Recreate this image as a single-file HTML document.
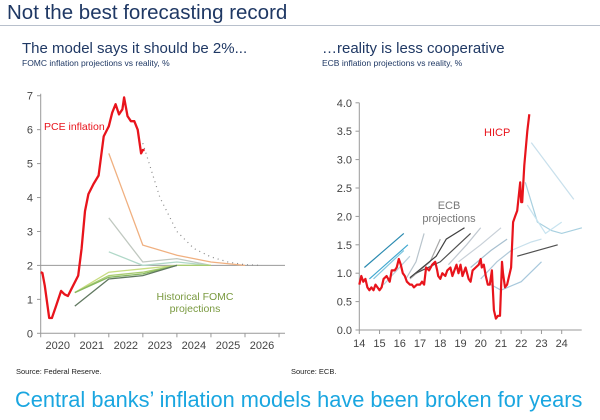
<!DOCTYPE html>
<html><head><meta charset="utf-8"><style>
body{margin:0;width:600px;height:420px;background:#fff;overflow:hidden;font-family:"Liberation Sans",sans-serif;position:relative}
.t{position:absolute;white-space:nowrap}
</style></head><body>
<div class="t" style="left:7px;top:1px;font-size:20.5px;color:#1f3864">Not the best forecasting record</div>
<div style="position:absolute;left:0;top:25px;width:600px;height:1px;background:#b8c0cc"></div>
<div class="t" style="left:22px;top:40px;font-size:15px;color:#1f3864">The model says it should be 2%...</div>
<div class="t" style="left:22px;top:58px;font-size:8.5px;color:#1f3864">FOMC inflation projections vs reality, %</div>
<div class="t" style="left:322px;top:40px;font-size:15px;color:#1f3864">…reality is less cooperative</div>
<div class="t" style="left:322px;top:58px;font-size:8.5px;color:#1f3864">ECB inflation projections vs reality, %</div>
<div class="t" style="left:16px;top:367px;font-size:7.5px;color:#222">Source: Federal Reserve.</div>
<div class="t" style="left:291px;top:367px;font-size:7.5px;color:#222">Source: ECB.</div>
<div class="t" style="left:15px;top:387px;font-size:21.8px;color:#1aa6e0">Central banks’ inflation models have been broken for years</div>
<svg id="c" width="600" height="420" style="position:absolute;left:0;top:0"></svg>
<script>
// ---- FOMC chart data ----
const pceYears=[2020.0,2020.05,2020.12,2020.25,2020.33,2020.45,2020.6,2020.7,2020.8,2020.9,2021.1,2021.2,2021.3,2021.4,2021.55,2021.7,2021.85,2022.0,2022.1,2022.2,2022.3,2022.4,2022.45,2022.55,2022.65,2022.75,2022.85,2022.95,2023.0,2023.05];
const pceValues=[1.8,1.78,1.4,0.45,0.45,0.8,1.25,1.15,1.1,1.3,1.7,2.5,3.6,4.1,4.4,4.65,5.8,6.1,6.5,6.75,6.45,6.6,6.95,6.4,6.25,6.25,6.0,5.3,5.4,5.4];
const dotYears=[2023.0,2023.5,2024.0,2024.5,2025.0,2025.5,2026.0,2026.5];
const dotValues=[5.6,4.0,3.0,2.5,2.25,2.1,2.02,2.0];
const fomcYears=[2021,2022,2023,2024,2025,2026];
const fomcProj=[
 {c:"#f0b080",v:[null,5.3,2.6,2.3,2.1,2.0]},
 {c:"#c0c8c0",v:[null,3.4,2.1,2.2,2.0,null]},
 {c:"#b0d8c8",v:[null,2.4,2.0,2.1,2.0,null]},
 {c:"#c8dc80",v:[1.2,1.8,1.9,2.0,2.0,null]},
 {c:"#a8cc70",v:[1.2,1.7,1.8,2.0,2.0,null]},
 {c:"#88b860",v:[1.2,1.65,1.75,2.0,null,null]},
 {c:"#607860",v:[0.8,1.6,1.7,2.0,null,null]}];
const leftYTicks=[0,1,2,3,4,5,6,7];
const leftXLabels=["2020","2021","2022","2023","2024","2025","2026"];
// ---- ECB chart data ----
const hicpYears=[14.0,14.1,14.2,14.3,14.4,14.5,14.6,14.7,14.8,14.9,15.0,15.1,15.2,15.35,15.5,15.6,15.75,15.85,15.95,16.05,16.15,16.25,16.35,16.5,16.6,16.7,16.85,17.0,17.1,17.2,17.3,17.45,17.6,17.75,17.85,17.9,18.0,18.1,18.25,18.35,18.5,18.6,18.7,18.8,18.9,19.0,19.1,19.25,19.4,19.5,19.6,19.75,19.9,20.0,20.05,20.15,20.25,20.35,20.45,20.55,20.65,20.75,20.85,20.95,21.05,21.1,21.2,21.3,21.4,21.5,21.6,21.7,21.8,21.95,22.0,22.05,22.15,22.3,22.4];
const hicpValues=[0.8,0.95,0.85,0.9,0.75,0.7,0.75,0.7,0.8,0.75,0.7,0.75,0.9,0.95,0.85,1.05,1.05,1.1,1.25,1.15,1.0,0.95,0.85,0.8,0.8,0.75,0.8,0.8,0.85,0.8,1.1,1.05,1.15,1.2,1.05,0.95,0.9,1.0,0.95,1.05,1.1,0.95,1.05,1.15,1.0,1.15,0.95,1.1,0.9,0.85,1.05,1.1,1.15,1.25,1.1,1.15,0.95,0.8,0.8,1.05,0.35,0.2,0.25,0.25,1.2,1.0,0.75,0.8,0.95,1.1,1.9,2.0,2.1,2.6,2.25,2.25,2.9,3.5,3.8];
const ecbProj=[
 {c:"#2a8ab0",x:[14.25,16.2],v:[1.1,1.7]},
 {c:"#40a8d0",x:[14.5,16.4],v:[0.9,1.5]},
 {c:"#80c8e0",x:[14.7,16.2],v:[0.9,1.4]},
 {c:"#b8d0dc",x:[15.2,16.5],v:[0.8,1.3]},
 {c:"#b8c4cc",x:[16.3,16.8,17.2],v:[0.9,1.2,1.7]},
 {c:"#a8a8a8",x:[16.5,17.5,18.0],v:[0.9,1.2,1.6]},
 {c:"#404040",x:[16.5,17.8,18.3,19.2],v:[0.92,1.3,1.6,1.8]},
 {c:"#505050",x:[16.8,18.0,19.5],v:[1.0,1.2,1.7]},
 {c:"#c0c8d0",x:[18.4,19.3,20.0],v:[1.15,1.5,1.8]},
 {c:"#c8d0d8",x:[18.9,20.0,21.0],v:[1.2,1.5,1.8]},
 {c:"#a8c0d0",x:[19.5,20.5,21.3],v:[1.1,1.4,1.6]},
 {c:"#b0c8d8",x:[20.0,20.8,21.5],v:[0.9,1.2,1.4]},
 {c:"#a8c8dc",x:[20.5,21.0,22.0,23.0],v:[0.8,0.7,0.85,1.2]},
 {c:"#c8e0ec",x:[21.5,22.5,23.0],v:[1.4,1.55,1.6]},
 {c:"#505050",x:[21.8,23.8],v:[1.3,1.5]},
 {c:"#a8d0e0",x:[22.2,22.8,23.5,24.0,25.0],v:[2.6,1.9,1.75,1.7,1.8]},
 {c:"#c8e0ec",x:[22.5,24.6],v:[3.3,2.3]},
 {c:"#c8e4f0",x:[22.3,23.2,24.0],v:[2.2,1.7,1.9]}];
const rightYTicks=[0,0.5,1.0,1.5,2.0,2.5,3.0,3.5,4.0];
const rightXLabels=[14,15,16,17,18,19,20,21,22,23,24];

const svg=document.getElementById('c');const NS="http://www.w3.org/2000/svg";
function mk(t,a,p){const e=document.createElementNS(NS,t);for(const k in a)e.setAttribute(k,a[k]);(p||svg).appendChild(e);return e;}
const lx=y=>40.7+(y-2020)*34.05, ly=v=>333.3-v*33.94;
const rx=y=>359.3+(y-14)*20.24, ry=v=>330-v*56.8;
function path(xs,vs,fx,fy){let d="";let pen=false;for(let i=0;i<xs.length;i++){if(vs[i]==null){pen=false;continue;}d+=(pen?"L":"M")+fx(xs[i]).toFixed(1)+","+fy(vs[i]).toFixed(1);pen=true;}return d;}
let e=mk('line',{x1:40.7,y1:ly(7)-2,x2:40.7,y2:ly(0),stroke:'#999','stroke-width':1});


e=mk('line',{x1:40.7,y1:ly(0),x2:285,y2:ly(0),stroke:'#999','stroke-width':1});


e=mk('line',{x1:40.7,y1:ly(2),x2:285,y2:ly(2),stroke:'#999','stroke-width':1});


leftYTicks.forEach(v=>{mk('line',{x1:37,y1:ly(v),x2:40.7,y2:ly(v),stroke:'#999'});
 const t=mk('text',{x:33,y:ly(v)+4,'font-size':11,fill:'#444','text-anchor':'end'});t.textContent=v;
 
 });
for(let i=0;i<=7;i++)mk('line',{x1:lx(2020+i),y1:ly(0),x2:lx(2020+i),y2:ly(0)+4,stroke:'#999'});
leftXLabels.forEach((s,i)=>{const t=mk('text',{x:lx(2020.5+i),y:349,'font-size':11,fill:'#444','text-anchor':'middle'});t.textContent=s;
 
 });
fomcProj.forEach(p=>{const l=mk('path',{d:path(fomcYears,p.v,lx,ly),fill:'none',stroke:p.c,'stroke-width':1.3});
 
 });
e=mk('path',{d:path(dotYears,dotValues,lx,ly),fill:'none',stroke:'#888','stroke-width':1.2,'stroke-dasharray':'1 4'});


e=mk('path',{d:path(pceYears,pceValues,lx,ly),fill:'none',stroke:'#e8141c','stroke-width':2.3,'stroke-linejoin':'round'});


e=mk('text',{x:44,y:130,'font-size':10.5,fill:'#e8141c'});e.textContent='PCE inflation';


e=mk('text',{x:195,y:300,'font-size':10.5,fill:'#7a9a40','text-anchor':'middle'});e.textContent='Historical FOMC';


e=mk('text',{x:195,y:312,'font-size':10.5,fill:'#7a9a40','text-anchor':'middle'});e.textContent='projections';


e=mk('line',{x1:359.3,y1:ry(4),x2:359.3,y2:ry(0),stroke:'#999'});


e=mk('line',{x1:359.3,y1:ry(0),x2:581.7,y2:ry(0),stroke:'#999'});


rightYTicks.forEach(v=>{mk('line',{x1:355.5,y1:ry(v),x2:359.3,y2:ry(v),stroke:'#999'});
 const t=mk('text',{x:352,y:ry(v)+4,'font-size':11,fill:'#444','text-anchor':'end'});t.textContent=v.toFixed(1);
 
 });
rightXLabels.forEach(s=>{mk('line',{x1:rx(s),y1:ry(0),x2:rx(s),y2:ry(0)+4,stroke:'#999'});
 const t=mk('text',{x:rx(s),y:347,'font-size':11,fill:'#444','text-anchor':'middle'});t.textContent=s;
 
 });
ecbProj.forEach(p=>{const l=mk('path',{d:path(p.x,p.v,rx,ry),fill:'none',stroke:p.c,'stroke-width':1.2});
 
 });
e=mk('path',{d:path(hicpYears,hicpValues,rx,ry),fill:'none',stroke:'#e8141c','stroke-width':2.2,'stroke-linejoin':'round'});


e=mk('text',{x:484,y:136,'font-size':11,fill:'#e8141c'});e.textContent='HICP';


e=mk('text',{x:449,y:209,'font-size':11,fill:'#777','text-anchor':'middle'});e.textContent='ECB';


e=mk('text',{x:449,y:222,'font-size':11,fill:'#777','text-anchor':'middle'});e.textContent='projections';


</script>
</body></html>
